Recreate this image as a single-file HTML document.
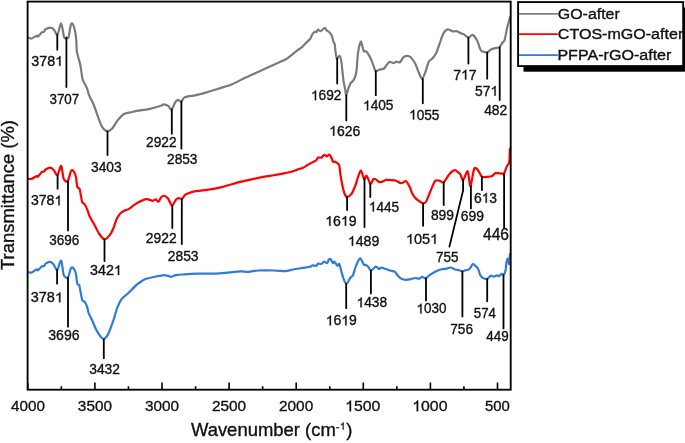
<!DOCTYPE html>
<html><head><meta charset="utf-8"><style>
html,body{margin:0;padding:0;background:#fff;}
svg{display:block;transform:translateZ(0);}
text{font-family:"Liberation Sans",sans-serif;fill:#111;stroke:#111;stroke-width:0.35px;}
path.o{fill:#111;stroke:#111;stroke-width:0.35px;vector-effect:non-scaling-stroke;}
</style></head><body>
<svg width="685" height="443" viewBox="0 0 685 443">

<path d="M28.00 37.60C28.51 37.73 30.38 38.77 31.60 38.50C32.82 38.23 35.71 35.97 36.60 35.70C37.49 35.43 37.19 37.04 37.90 36.60C38.61 36.16 40.69 33.29 41.60 32.60C42.51 31.91 43.79 32.15 44.30 31.70C44.81 31.25 44.31 29.98 45.20 29.40C46.09 28.82 49.40 27.60 50.60 27.60C51.80 27.60 52.74 28.44 53.70 29.40C54.66 30.36 56.34 35.24 57.40 34.40C58.46 33.56 60.25 23.12 61.20 23.50C62.15 23.88 63.36 35.05 64.10 37.10C64.84 39.15 65.76 38.00 66.40 38.00C67.04 38.00 67.96 39.01 68.60 37.10C69.24 35.19 70.25 26.23 70.90 24.50C71.55 22.77 72.49 23.24 73.20 24.90C73.91 26.56 75.39 32.53 75.90 36.20C76.41 39.87 76.49 47.90 76.80 50.80C77.11 53.70 77.59 54.65 78.10 56.70C78.61 58.75 79.81 62.28 80.40 65.30C81.00 68.32 81.85 75.69 82.30 78.00C82.75 80.31 82.91 80.07 83.60 81.60C84.29 83.13 86.44 86.87 87.20 88.80C87.97 90.73 88.16 93.15 89.00 95.20C89.84 97.25 92.14 101.13 93.10 103.30C94.06 105.47 95.02 108.35 95.80 110.50C96.58 112.65 97.69 116.15 98.60 118.50C99.51 120.85 100.98 125.30 102.20 127.10C103.42 128.90 105.78 131.00 107.20 131.20C108.62 131.40 110.73 130.03 112.20 128.50C113.67 126.97 115.94 122.45 117.60 120.40C119.26 118.35 121.99 115.16 123.90 114.00C125.81 112.84 128.79 112.71 131.10 112.20C133.41 111.69 137.52 110.87 140.20 110.40C142.88 109.93 147.08 109.55 150.00 108.90C152.92 108.25 158.87 106.44 160.80 105.80C162.73 105.16 162.51 104.34 163.60 104.40C164.69 104.46 167.38 105.46 168.50 106.20C169.62 106.94 170.54 110.17 171.50 109.60C172.46 109.03 174.38 103.57 175.30 102.20C176.22 100.83 177.16 99.97 178.00 99.90C178.84 99.83 180.24 102.08 181.20 101.70C182.16 101.32 182.82 98.09 184.80 97.20C186.78 96.31 192.96 95.85 195.20 95.40C197.44 94.95 199.21 94.35 200.60 94.00C201.99 93.65 203.67 93.28 205.00 92.90C206.33 92.52 208.07 91.91 210.00 91.30C211.93 90.69 215.47 89.61 218.60 88.60C221.73 87.59 228.26 85.77 232.10 84.20C235.94 82.63 241.86 79.31 245.70 77.50C249.54 75.69 255.36 73.14 259.20 71.40C263.04 69.66 268.96 66.96 272.80 65.20C276.64 63.44 283.51 60.54 286.30 59.00C289.09 57.46 290.98 55.49 292.50 54.30C294.02 53.11 295.70 51.59 297.00 50.60C298.30 49.61 300.43 48.38 301.70 47.30C302.97 46.22 304.77 44.23 306.00 43.00C307.23 41.77 309.54 39.78 310.40 38.60C311.26 37.42 311.52 35.65 312.10 34.70C312.68 33.75 313.88 32.28 314.50 31.90C315.12 31.52 316.00 32.34 316.50 32.00C317.00 31.66 317.41 29.61 318.00 29.50C318.59 29.39 319.74 31.43 320.70 31.20C321.66 30.97 323.91 27.96 324.80 27.90C325.69 27.84 326.43 30.26 327.00 30.80C327.57 31.34 328.15 31.06 328.80 31.70C329.45 32.34 330.95 33.90 331.60 35.30C332.25 36.70 332.96 40.33 333.40 41.60C333.84 42.88 334.42 43.05 334.70 44.30C334.98 45.55 335.12 48.39 335.40 50.40C335.68 52.41 336.12 57.73 336.70 58.50C337.28 59.27 338.85 55.42 339.50 55.80C340.15 56.18 340.90 59.19 341.30 61.20C341.70 63.21 341.99 67.22 342.30 70.00C342.61 72.78 343.07 77.98 343.50 80.80C343.93 83.62 344.92 87.85 345.30 89.90C345.68 91.95 345.75 95.55 346.20 95.30C346.65 95.05 347.86 89.83 348.50 88.10C349.14 86.37 350.06 84.13 350.70 83.10C351.34 82.07 352.35 81.76 353.00 80.80C353.65 79.84 354.79 77.83 355.30 76.30C355.81 74.77 356.22 73.29 356.60 70.00C356.98 66.71 357.42 57.09 358.00 53.10C358.58 49.11 360.13 42.96 360.70 41.80C361.27 40.64 361.56 43.55 362.00 44.90C362.44 46.25 363.22 50.39 363.80 51.30C364.38 52.21 365.32 50.66 366.10 51.30C366.88 51.94 368.59 54.65 369.30 55.80C370.01 56.95 370.46 57.87 371.10 59.40C371.74 60.93 373.16 64.94 373.80 66.60C374.44 68.26 374.84 70.65 375.60 71.10C376.37 71.55 378.00 70.17 379.20 69.80C380.40 69.43 383.09 69.12 384.10 68.50C385.11 67.88 385.54 66.34 386.30 65.40C387.06 64.47 388.47 62.23 389.50 61.90C390.53 61.57 392.64 63.13 393.60 63.10C394.56 63.07 395.41 61.83 396.30 61.70C397.19 61.57 398.88 62.84 399.90 62.20C400.92 61.56 402.48 58.09 403.50 57.20C404.52 56.31 406.08 55.90 407.10 55.90C408.12 55.90 409.55 56.11 410.70 57.20C411.85 58.29 414.05 61.42 415.20 63.60C416.35 65.78 417.84 70.43 418.80 72.60C419.76 74.77 421.09 78.90 422.00 78.90C422.91 78.90 424.24 75.04 425.20 72.60C426.16 70.16 427.78 63.68 428.80 61.70C429.82 59.72 431.38 59.75 432.40 58.60C433.42 57.45 434.99 55.68 436.00 53.60C437.01 51.52 438.49 46.68 439.50 43.90C440.51 41.12 442.21 35.91 443.10 34.00C443.99 32.09 445.02 31.04 445.80 30.40C446.58 29.76 447.57 29.36 448.60 29.50C449.63 29.64 451.95 31.17 453.10 31.40C454.25 31.63 455.68 30.86 456.70 31.10C457.72 31.34 459.28 32.63 460.30 33.10C461.32 33.57 462.75 33.76 463.90 34.40C465.05 35.04 467.18 37.53 468.40 37.60C469.62 37.67 471.28 34.52 472.50 34.90C473.72 35.28 476.04 38.64 477.00 40.30C477.96 41.96 478.72 45.13 479.30 46.60C479.88 48.07 480.34 49.94 481.10 50.70C481.87 51.47 483.81 51.74 484.70 52.00C485.59 52.26 486.51 52.85 487.40 52.50C488.29 52.15 489.91 50.12 491.00 49.50C492.09 48.88 493.95 48.40 495.10 48.10C496.25 47.80 498.05 48.16 499.10 47.40C500.15 46.63 501.72 43.75 502.50 42.70C503.28 41.65 503.92 42.21 504.60 40.00C505.28 37.79 506.54 30.27 507.30 27.10C508.06 23.93 509.56 19.13 510.00 17.60C510.44 16.07 510.34 16.48 510.40 16.30" fill="none" stroke="#7a7a7a" stroke-width="2.2" stroke-linejoin="round"/>
<path d="M28.00 178.70C28.51 178.73 30.38 179.28 31.60 178.90C32.82 178.52 35.71 176.31 36.60 176.00C37.49 175.69 37.19 177.24 37.90 176.70C38.61 176.16 40.69 172.96 41.60 172.20C42.51 171.44 43.73 171.68 44.30 171.30C44.87 170.92 44.78 170.02 45.60 169.50C46.42 168.98 48.95 167.54 50.10 167.60C51.25 167.66 52.67 168.84 53.70 169.90C54.73 170.96 56.34 175.68 57.40 175.10C58.46 174.52 60.31 165.26 61.20 165.80C62.09 166.34 62.78 176.72 63.70 178.90C64.62 181.08 66.68 182.28 67.70 181.20C68.72 180.12 70.12 172.77 70.90 171.30C71.68 169.83 72.49 170.04 73.20 170.80C73.91 171.56 75.33 174.46 75.90 176.70C76.47 178.94 76.76 184.94 77.20 186.60C77.64 188.26 78.60 187.86 79.00 188.40C79.40 188.94 79.55 188.45 80.00 190.40C80.45 192.35 81.56 200.27 82.20 202.20C82.84 204.13 83.73 202.85 84.50 204.00C85.27 205.15 86.96 208.77 87.60 210.30C88.24 211.83 88.48 213.53 89.00 214.80C89.52 216.08 90.52 217.87 91.30 219.30C92.08 220.73 93.41 222.89 94.50 224.90C95.59 226.91 97.58 231.45 99.00 233.50C100.42 235.55 102.96 239.20 104.50 239.40C106.04 239.60 108.62 236.52 109.90 234.90C111.18 233.28 112.59 230.14 113.50 228.00C114.41 225.86 115.59 221.50 116.30 219.80C117.01 218.10 117.86 216.96 118.50 216.00C119.14 215.04 119.84 213.81 120.80 213.00C121.76 212.19 124.28 210.81 125.30 210.30C126.32 209.79 126.97 209.98 128.00 209.40C129.03 208.82 131.18 207.16 132.60 206.20C134.02 205.24 136.06 203.59 138.00 202.60C139.94 201.61 144.23 199.45 146.30 199.20C148.37 198.94 151.27 200.77 152.60 200.80C153.93 200.83 154.86 199.27 155.70 199.40C156.54 199.53 157.72 202.01 158.50 201.70C159.28 201.39 160.38 198.04 161.20 197.20C162.02 196.36 163.28 195.55 164.30 195.80C165.32 196.06 167.31 197.60 168.40 199.00C169.49 200.40 170.91 205.64 172.00 205.70C173.09 205.76 175.08 200.48 176.10 199.40C177.12 198.32 178.38 198.16 179.20 198.10C180.02 198.04 181.06 199.45 181.90 199.00C182.74 198.55 183.95 195.81 185.10 194.90C186.25 193.99 188.67 193.11 190.00 192.60C191.33 192.09 192.33 191.65 194.50 191.30C196.67 190.95 201.46 190.69 205.30 190.10C209.14 189.50 216.80 188.23 221.60 187.10C226.40 185.97 234.78 183.23 239.20 182.10C243.62 180.97 248.96 179.91 252.80 179.10C256.64 178.29 263.16 176.98 266.30 176.40C269.44 175.82 272.35 175.47 275.00 175.00C277.65 174.53 282.80 173.53 285.00 173.10C287.20 172.67 289.08 172.37 290.50 172.00C291.92 171.63 293.80 170.93 295.00 170.50C296.20 170.07 298.01 169.31 299.00 169.00C299.99 168.69 301.08 168.67 302.00 168.30C302.92 167.93 304.65 166.92 305.50 166.40C306.35 165.88 307.29 165.04 308.00 164.60C308.71 164.16 309.35 163.91 310.50 163.30C311.65 162.69 315.02 161.11 316.10 160.30C317.18 159.49 317.34 157.98 318.10 157.60C318.87 157.22 320.64 157.98 321.50 157.60C322.36 157.22 323.44 155.08 324.20 154.90C324.96 154.72 326.22 156.34 326.90 156.30C327.58 156.26 328.42 154.51 329.00 154.60C329.58 154.69 330.43 155.89 331.00 156.90C331.57 157.91 332.42 161.02 333.00 161.70C333.58 162.38 334.24 161.22 335.10 161.70C335.96 162.18 338.34 163.19 339.10 165.10C339.87 167.01 340.02 172.22 340.50 175.20C340.98 178.17 341.93 183.51 342.50 186.10C343.07 188.69 343.86 191.97 344.50 193.50C345.14 195.03 346.04 196.80 347.00 196.90C347.96 197.00 350.14 195.74 351.30 194.20C352.46 192.66 354.29 188.28 355.20 186.00C356.11 183.72 356.89 180.31 357.70 178.10C358.51 175.89 360.01 170.27 360.90 170.40C361.79 170.53 363.18 178.23 364.00 179.00C364.82 179.77 365.79 175.11 366.70 175.80C367.61 176.49 369.44 183.45 370.40 183.90C371.36 184.35 372.74 179.64 373.50 179.00C374.26 178.36 374.96 178.96 375.80 179.40C376.64 179.84 378.51 181.77 379.40 182.10C380.29 182.43 381.14 182.01 382.10 181.70C383.06 181.39 384.93 180.13 386.20 179.90C387.47 179.67 389.70 179.97 391.10 180.10C392.50 180.23 394.81 180.39 396.10 180.80C397.39 181.21 399.24 182.75 400.20 183.00C401.16 183.25 402.08 182.88 402.90 182.60C403.72 182.32 405.24 180.75 406.00 181.00C406.76 181.25 407.73 183.48 408.30 184.40C408.87 185.32 409.48 186.28 410.00 187.50C410.52 188.72 411.36 191.65 412.00 193.00C412.64 194.35 413.79 196.08 414.50 197.00C415.21 197.92 415.81 198.61 417.00 199.50C418.19 200.39 421.58 203.05 422.90 203.30C424.22 203.56 425.15 203.21 426.30 201.30C427.45 199.39 429.75 192.68 431.00 189.80C432.25 186.92 433.95 182.30 435.10 181.00C436.25 179.70 437.90 180.42 439.10 180.60C440.30 180.78 442.16 183.21 443.60 182.30C445.05 181.39 447.73 175.91 449.30 174.20C450.87 172.49 453.35 170.38 454.70 170.20C456.05 170.02 457.99 172.29 458.80 172.90C459.61 173.51 459.79 173.49 460.40 174.50C461.01 175.51 462.14 180.47 463.10 180.00C464.06 179.53 466.44 171.88 467.20 171.20C467.96 170.52 468.02 173.09 468.50 175.20C468.98 177.31 469.82 186.96 470.60 186.10C471.38 185.24 473.14 171.56 474.00 169.10C474.86 166.63 475.94 168.22 476.70 168.70C477.46 169.18 478.63 171.35 479.40 172.50C480.16 173.65 480.95 176.19 482.10 176.80C483.25 177.41 486.07 176.93 487.50 176.80C488.93 176.67 491.05 176.41 492.20 175.90C493.35 175.39 494.06 173.53 495.60 173.20C497.14 172.87 501.94 173.42 503.10 173.60C504.26 173.78 503.32 175.42 503.80 174.50C504.28 173.58 505.74 168.83 506.50 167.10C507.26 165.37 508.72 164.79 509.20 162.30C509.68 159.81 509.74 151.51 509.90 149.50C510.06 147.49 510.24 148.30 510.30 148.10" fill="none" stroke="#ff0000" stroke-width="2.2" stroke-linejoin="round"/>
<path d="M28.00 272.10C28.51 272.17 30.38 272.98 31.60 272.60C32.82 272.22 35.71 269.73 36.60 269.40C37.49 269.07 37.19 270.68 37.90 270.30C38.61 269.92 40.69 267.34 41.60 266.70C42.51 266.06 43.73 266.24 44.30 265.80C44.87 265.36 44.78 264.15 45.60 263.60C46.42 263.05 48.95 261.77 50.10 261.90C51.25 262.03 52.71 263.37 53.70 264.50C54.69 265.63 56.04 270.44 57.10 269.90C58.16 269.36 60.27 260.01 61.20 260.70C62.14 261.39 62.78 272.41 63.70 274.80C64.62 277.19 66.68 278.49 67.70 277.60C68.72 276.71 70.12 269.87 70.90 268.50C71.68 267.13 72.49 267.19 73.20 267.90C73.91 268.61 75.33 271.30 75.90 273.50C76.47 275.70 76.76 281.80 77.20 283.40C77.64 285.00 78.67 284.39 79.00 284.80C79.33 285.21 79.05 284.16 79.50 286.30C79.95 288.44 81.49 297.72 82.20 299.90C82.91 302.08 83.79 300.68 84.50 301.70C85.21 302.72 86.62 305.50 87.20 307.10C87.78 308.70 88.09 311.53 88.60 313.00C89.11 314.47 90.29 316.44 90.80 317.50C91.31 318.56 91.45 318.81 92.20 320.50C92.95 322.19 94.91 327.12 96.10 329.40C97.29 331.68 99.55 335.23 100.60 336.60C101.65 337.97 102.59 339.16 103.50 339.10C104.41 339.04 105.99 337.76 107.00 336.20C108.01 334.64 109.61 330.61 110.60 328.10C111.59 325.59 113.06 321.38 114.00 318.50C114.94 315.62 116.11 310.59 117.20 307.80C118.29 305.01 120.30 300.73 121.70 298.80C123.10 296.87 125.68 295.49 127.10 294.20C128.52 292.91 130.28 291.10 131.70 289.70C133.12 288.30 135.70 285.50 137.10 284.30C138.50 283.10 140.30 281.99 141.60 281.20C142.90 280.41 143.34 279.54 146.30 278.70C149.26 277.86 159.43 275.71 162.50 275.30C165.57 274.89 166.75 275.59 168.00 275.80C169.25 276.01 170.15 276.90 171.30 276.80C172.45 276.70 174.27 275.44 176.10 275.10C177.93 274.76 181.13 274.60 184.20 274.40C187.27 274.20 192.73 273.86 197.80 273.70C202.87 273.54 213.98 273.63 220.00 273.30C226.02 272.97 236.46 271.60 240.30 271.40C244.14 271.20 244.59 272.03 247.10 271.90C249.61 271.77 254.16 270.70 258.00 270.50C261.84 270.30 270.36 270.40 274.20 270.50C278.04 270.60 282.41 271.34 285.10 271.20C287.79 271.06 290.90 269.93 293.20 269.50C295.50 269.07 299.63 268.47 301.30 268.20C302.97 267.93 303.71 267.81 305.00 267.60C306.29 267.39 309.31 267.03 310.40 266.70C311.49 266.37 311.86 265.43 312.70 265.30C313.54 265.17 315.54 266.06 316.30 265.80C317.06 265.55 317.39 263.75 318.10 263.50C318.81 263.25 320.46 264.25 321.30 264.00C322.14 263.75 323.18 261.83 324.00 261.70C324.82 261.57 326.41 263.40 327.10 263.10C327.79 262.80 328.39 260.14 328.90 259.60C329.41 259.06 330.12 258.80 330.70 259.30C331.28 259.80 332.48 262.76 333.00 263.10C333.52 263.44 333.76 261.32 334.40 261.70C335.04 262.08 336.81 265.47 337.50 265.80C338.19 266.13 338.79 263.36 339.30 264.00C339.81 264.64 340.52 268.26 341.10 270.30C341.68 272.34 342.65 276.49 343.40 278.40C344.15 280.31 345.44 283.86 346.40 283.80C347.36 283.74 349.28 279.20 350.20 278.00C351.12 276.80 352.21 276.65 352.90 275.30C353.59 273.95 354.41 270.43 355.10 268.50C355.79 266.57 357.06 263.13 357.80 261.70C358.54 260.27 359.59 258.27 360.30 258.40C361.01 258.53 362.28 261.68 362.80 262.60C363.32 263.52 363.57 264.57 364.00 264.90C364.43 265.23 365.15 264.57 365.80 264.90C366.45 265.23 367.89 266.39 368.60 267.20C369.31 268.01 369.78 270.67 370.80 270.60C371.82 270.53 374.65 266.93 375.80 266.70C376.95 266.47 378.13 268.87 378.90 269.00C379.66 269.13 380.24 267.60 381.20 267.60C382.16 267.60 384.30 268.55 385.70 269.00C387.10 269.45 389.83 270.42 391.10 270.80C392.38 271.18 393.67 270.94 394.70 271.70C395.73 272.46 397.37 275.15 398.40 276.20C399.43 277.25 400.98 278.59 402.00 279.10C403.02 279.61 404.33 279.80 405.60 279.80C406.88 279.80 409.61 279.36 411.00 279.10C412.39 278.85 414.27 278.06 415.40 278.00C416.53 277.94 418.04 278.86 419.00 278.70C419.96 278.54 421.24 276.96 422.20 276.90C423.16 276.84 424.71 278.58 425.80 278.30C426.89 278.02 428.43 275.89 429.90 274.90C431.37 273.91 434.54 272.09 436.20 271.30C437.86 270.51 440.07 269.68 441.60 269.30C443.13 268.92 445.71 268.86 447.00 268.60C448.29 268.35 449.54 267.37 450.70 267.50C451.86 267.63 454.00 269.12 455.20 269.50C456.40 269.88 458.18 269.93 459.20 270.20C460.22 270.47 461.52 271.39 462.40 271.40C463.28 271.41 464.46 270.58 465.40 270.30C466.33 270.02 468.24 269.85 469.00 269.40C469.76 268.95 470.29 267.84 470.80 267.10C471.31 266.36 472.02 264.45 472.60 264.20C473.18 263.94 474.12 264.63 474.90 265.30C475.68 265.97 477.34 267.48 478.10 268.90C478.87 270.32 479.61 274.01 480.30 275.30C480.99 276.59 482.04 277.49 483.00 278.00C483.96 278.51 486.01 279.23 487.10 278.90C488.19 278.57 489.81 276.03 490.70 275.70C491.59 275.37 492.51 276.66 493.40 276.60C494.29 276.54 496.24 275.36 497.00 275.30C497.76 275.24 498.15 276.40 498.80 276.20C499.45 276.00 500.89 274.10 501.60 273.90C502.31 273.70 503.23 275.31 503.80 274.80C504.37 274.29 505.22 272.09 505.60 270.30C505.98 268.51 506.17 263.86 506.50 262.20C506.83 260.54 507.52 258.35 507.90 258.60C508.28 258.86 508.89 264.78 509.20 264.00C509.51 263.22 509.97 254.64 510.10 253.10" fill="none" stroke="#2f7bd9" stroke-width="2.2" stroke-linejoin="round"/>
<path d="M57.3 34.7V49.8M66.4 37.5V87.0M107.5 131.5V155.1M171.8 109.5V133.8M181.4 101.5V148.7M337.2 58.5V83.5M346.3 95.3V120.4M375.8 71.2V95.2M422.8 79.0V103.3M468.4 37.6V63.5M487.2 52.3V78.7M499.7 47.3V100.0M57.6 175.3V188.8M68.0 181.3V230.6M104.5 239.4V261.1M172.3 205.7V228.1M181.8 199.0V244.0M347.1 196.9V210.0M364.5 179.0V227.1M370.3 183.9V197.1M423.1 203.3V225.8M443.7 182.3V205.0M470.9 186.1V208.4M481.9 176.8V190.2M504.1 174.3V228.2M57.1 269.9V283.7M68.0 277.6V326.7M103.8 339.1V358.2M346.2 283.8V308.2M370.9 270.6V293.5M426.0 278.3V300.5M462.4 271.4V316.6M487.2 278.9V301.3M503.5 274.8V328.4M463.1 180.0L463.1 190.4L449.4 246.6" stroke="#000" stroke-width="1.8" stroke-linecap="round" fill="none"/>
<text x="31.20" y="65.85" font-size="14.2" textLength="31.88" lengthAdjust="spacingAndGlyphs">378 </text><path class="o" d="M763 0H583V1147Q518 1085 412.5 1023T223 930V1104Q374 1175 487 1276T647 1472H763V0Z" transform="translate(55.11,65.85) scale(0.00700,-0.00664)"/>
<text x="49.44" y="103.65" font-size="14.2" textLength="29.78" lengthAdjust="spacingAndGlyphs">3707</text>
<text x="91.03" y="171.65" font-size="14.2" textLength="30.63" lengthAdjust="spacingAndGlyphs">3403</text>
<text x="146.06" y="146.65" font-size="14.2" textLength="30.48" lengthAdjust="spacingAndGlyphs">2922</text>
<text x="167.06" y="164.15" font-size="14.2" textLength="30.39" lengthAdjust="spacingAndGlyphs">2853</text>
<text x="310.96" y="100.15" font-size="14.2" textLength="30.48" lengthAdjust="spacingAndGlyphs"> 692</text><path class="o" d="M763 0H583V1147Q518 1085 412.5 1023T223 930V1104Q374 1175 487 1276T647 1472H763V0Z" transform="translate(310.96,100.15) scale(0.00669,-0.00664)"/>
<text x="329.13" y="135.65" font-size="14.2" textLength="31.14" lengthAdjust="spacingAndGlyphs"> 626</text><path class="o" d="M763 0H583V1147Q518 1085 412.5 1023T223 930V1104Q374 1175 487 1276T647 1472H763V0Z" transform="translate(329.13,135.65) scale(0.00683,-0.00664)"/>
<text x="363.06" y="110.25" font-size="14.2" textLength="30.36" lengthAdjust="spacingAndGlyphs"> 405</text><path class="o" d="M763 0H583V1147Q518 1085 412.5 1023T223 930V1104Q374 1175 487 1276T647 1472H763V0Z" transform="translate(363.06,110.25) scale(0.00666,-0.00664)"/>
<text x="409.06" y="119.55" font-size="14.2" textLength="30.36" lengthAdjust="spacingAndGlyphs"> 055</text><path class="o" d="M763 0H583V1147Q518 1085 412.5 1023T223 930V1104Q374 1175 487 1276T647 1472H763V0Z" transform="translate(409.06,119.55) scale(0.00666,-0.00664)"/>
<text x="453.23" y="79.55" font-size="14.2" textLength="23.43" lengthAdjust="spacingAndGlyphs">7 7</text><path class="o" d="M763 0H583V1147Q518 1085 412.5 1023T223 930V1104Q374 1175 487 1276T647 1472H763V0Z" transform="translate(461.04,79.55) scale(0.00686,-0.00664)"/>
<text x="475.10" y="95.65" font-size="14.2" textLength="23.10" lengthAdjust="spacingAndGlyphs">57 </text><path class="o" d="M763 0H583V1147Q518 1085 412.5 1023T223 930V1104Q374 1175 487 1276T647 1472H763V0Z" transform="translate(490.49,95.65) scale(0.00676,-0.00664)"/>
<text x="484.13" y="114.55" font-size="14.2" textLength="23.01" lengthAdjust="spacingAndGlyphs">482</text>
<text x="30.91" y="205.25" font-size="14.2" textLength="31.32" lengthAdjust="spacingAndGlyphs">378 </text><path class="o" d="M763 0H583V1147Q518 1085 412.5 1023T223 930V1104Q374 1175 487 1276T647 1472H763V0Z" transform="translate(54.40,205.25) scale(0.00687,-0.00664)"/>
<text x="49.14" y="245.05" font-size="14.2" textLength="30.01" lengthAdjust="spacingAndGlyphs">3696</text>
<text x="90.01" y="275.05" font-size="14.2" textLength="31.77" lengthAdjust="spacingAndGlyphs">342 </text><path class="o" d="M763 0H583V1147Q518 1085 412.5 1023T223 930V1104Q374 1175 487 1276T647 1472H763V0Z" transform="translate(113.83,275.05) scale(0.00697,-0.00664)"/>
<text x="145.85" y="242.65" font-size="14.2" textLength="30.79" lengthAdjust="spacingAndGlyphs">2922</text>
<text x="167.75" y="260.65" font-size="14.2" textLength="30.80" lengthAdjust="spacingAndGlyphs">2853</text>
<text x="325.22" y="225.75" font-size="14.2" textLength="31.30" lengthAdjust="spacingAndGlyphs"> 6 9</text><path class="o" d="M763 0H583V1147Q518 1085 412.5 1023T223 930V1104Q374 1175 487 1276T647 1472H763V0Z" transform="translate(325.22,225.75) scale(0.00687,-0.00664)"/><path class="o" d="M763 0H583V1147Q518 1085 412.5 1023T223 930V1104Q374 1175 487 1276T647 1472H763V0Z" transform="translate(340.87,225.75) scale(0.00687,-0.00664)"/>
<text x="347.81" y="245.85" font-size="14.2" textLength="31.51" lengthAdjust="spacingAndGlyphs"> 489</text><path class="o" d="M763 0H583V1147Q518 1085 412.5 1023T223 930V1104Q374 1175 487 1276T647 1472H763V0Z" transform="translate(347.81,245.85) scale(0.00692,-0.00664)"/>
<text x="368.88" y="211.55" font-size="14.2" textLength="30.04" lengthAdjust="spacingAndGlyphs"> 445</text><path class="o" d="M763 0H583V1147Q518 1085 412.5 1023T223 930V1104Q374 1175 487 1276T647 1472H763V0Z" transform="translate(368.88,211.55) scale(0.00659,-0.00664)"/>
<text x="405.97" y="243.85" font-size="14.2" textLength="32.24" lengthAdjust="spacingAndGlyphs"> 05 </text><path class="o" d="M763 0H583V1147Q518 1085 412.5 1023T223 930V1104Q374 1175 487 1276T647 1472H763V0Z" transform="translate(405.97,243.85) scale(0.00708,-0.00664)"/><path class="o" d="M763 0H583V1147Q518 1085 412.5 1023T223 930V1104Q374 1175 487 1276T647 1472H763V0Z" transform="translate(430.15,243.85) scale(0.00708,-0.00664)"/>
<text x="430.95" y="219.75" font-size="14.2" textLength="23.05" lengthAdjust="spacingAndGlyphs">899</text>
<text x="435.96" y="262.25" font-size="14.2" textLength="22.46" lengthAdjust="spacingAndGlyphs">755</text>
<text x="460.85" y="221.05" font-size="14.2" textLength="23.16" lengthAdjust="spacingAndGlyphs">699</text>
<text x="473.95" y="202.65" font-size="14.2" textLength="23.11" lengthAdjust="spacingAndGlyphs">6 3</text><path class="o" d="M763 0H583V1147Q518 1085 412.5 1023T223 930V1104Q374 1175 487 1276T647 1472H763V0Z" transform="translate(481.65,202.65) scale(0.00676,-0.00664)"/>
<text x="482.99" y="240.25" font-size="15.6" textLength="26.04" lengthAdjust="spacingAndGlyphs">446</text>
<text x="30.70" y="302.15" font-size="14.2" textLength="32.32" lengthAdjust="spacingAndGlyphs">378 </text><path class="o" d="M763 0H583V1147Q518 1085 412.5 1023T223 930V1104Q374 1175 487 1276T647 1472H763V0Z" transform="translate(54.94,302.15) scale(0.00709,-0.00664)"/>
<text x="48.21" y="339.75" font-size="14.2" textLength="31.36" lengthAdjust="spacingAndGlyphs">3696</text>
<text x="89.22" y="374.05" font-size="14.2" textLength="30.72" lengthAdjust="spacingAndGlyphs">3432</text>
<text x="325.73" y="325.35" font-size="14.2" textLength="31.08" lengthAdjust="spacingAndGlyphs"> 6 9</text><path class="o" d="M763 0H583V1147Q518 1085 412.5 1023T223 930V1104Q374 1175 487 1276T647 1472H763V0Z" transform="translate(325.73,325.35) scale(0.00682,-0.00664)"/><path class="o" d="M763 0H583V1147Q518 1085 412.5 1023T223 930V1104Q374 1175 487 1276T647 1472H763V0Z" transform="translate(341.27,325.35) scale(0.00682,-0.00664)"/>
<text x="356.55" y="307.35" font-size="14.2" textLength="30.60" lengthAdjust="spacingAndGlyphs"> 438</text><path class="o" d="M763 0H583V1147Q518 1085 412.5 1023T223 930V1104Q374 1175 487 1276T647 1472H763V0Z" transform="translate(356.55,307.35) scale(0.00672,-0.00664)"/>
<text x="416.48" y="313.45" font-size="14.2" textLength="29.99" lengthAdjust="spacingAndGlyphs"> 030</text><path class="o" d="M763 0H583V1147Q518 1085 412.5 1023T223 930V1104Q374 1175 487 1276T647 1472H763V0Z" transform="translate(416.48,313.45) scale(0.00658,-0.00664)"/>
<text x="450.25" y="334.25" font-size="14.2" textLength="22.70" lengthAdjust="spacingAndGlyphs">756</text>
<text x="473.82" y="317.65" font-size="14.2" textLength="22.12" lengthAdjust="spacingAndGlyphs">574</text>
<text x="486.24" y="341.35" font-size="14.2" textLength="22.34" lengthAdjust="spacingAndGlyphs">449</text>
<rect x="27.6" y="1.6" width="483.1" height="388.1" fill="none" stroke="#000" stroke-width="1.85"/>
<path d="M27.80 389.7V382.6M61.35 389.7V386.3M94.90 389.7V382.6M128.45 389.7V386.3M162.00 389.7V382.6M195.55 389.7V386.3M229.10 389.7V382.6M262.65 389.7V386.3M296.20 389.7V382.6M329.75 389.7V386.3M363.30 389.7V382.6M396.85 389.7V386.3M430.40 389.7V382.6M463.95 389.7V386.3M497.50 389.7V382.6" stroke="#000" stroke-width="1.6" fill="none"/>
<text x="11.00" y="411.25" font-size="15.5" textLength="33.84" lengthAdjust="spacingAndGlyphs">4000</text>
<text x="77.87" y="411.25" font-size="15.5" textLength="34.08" lengthAdjust="spacingAndGlyphs">3500</text>
<text x="144.97" y="411.25" font-size="15.5" textLength="34.08" lengthAdjust="spacingAndGlyphs">3000</text>
<text x="211.88" y="411.25" font-size="15.5" textLength="34.28" lengthAdjust="spacingAndGlyphs">2500</text>
<text x="278.98" y="411.25" font-size="15.5" textLength="34.28" lengthAdjust="spacingAndGlyphs">2000</text>
<text x="345.12" y="411.25" font-size="15.5" textLength="35.24" lengthAdjust="spacingAndGlyphs"> 500</text><path class="o" d="M763 0H583V1147Q518 1085 412.5 1023T223 930V1104Q374 1175 487 1276T647 1472H763V0Z" transform="translate(345.12,411.25) scale(0.00774,-0.00724)"/>
<text x="412.22" y="411.25" font-size="15.5" textLength="35.24" lengthAdjust="spacingAndGlyphs"> 000</text><path class="o" d="M763 0H583V1147Q518 1085 412.5 1023T223 930V1104Q374 1175 487 1276T647 1472H763V0Z" transform="translate(412.22,411.25) scale(0.00774,-0.00724)"/>
<text x="485.05" y="411.25" font-size="15.5" textLength="24.88" lengthAdjust="spacingAndGlyphs">500</text>
<text x="190.90" y="436.00" font-size="18.5" textLength="144.97" lengthAdjust="spacingAndGlyphs">Wavenumber (cm</text>
<rect x="336.1" y="427.2" width="3.1" height="1.1" fill="#111"/>
<path class="o" d="M763 0H583V1147Q518 1085 412.5 1023T223 930V1104Q374 1175 487 1276T647 1472H763V0Z" transform="translate(339.97,429.6) scale(0.00476,-0.00476)"/>
<text x="346.2" y="436.0" font-size="18.5">)</text>
<g transform="translate(14.1,270) rotate(-90)"><text x="0" y="0" font-size="18.5" textLength="150" lengthAdjust="spacingAndGlyphs">Transmittance (%)</text></g>
<rect x="523.5" y="7.6" width="166" height="64.1" fill="#000"/>
<rect x="518.1" y="2.1" width="165.1" height="64" fill="#fff" stroke="#000" stroke-width="1.9"/>
<path d="M519 13.8H557.8" stroke="#808080" stroke-width="1.7"/>
<path d="M519 34.2H557.8" stroke="#ff0000" stroke-width="1.7"/>
<path d="M519 55.2H557.8" stroke="#2f7bd9" stroke-width="1.7"/>
<text x="557.80" y="18.80" font-size="15.3" textLength="61.95" lengthAdjust="spacingAndGlyphs">GO-after</text>
<text x="557.80" y="39.20" font-size="15.3" textLength="125.45" lengthAdjust="spacingAndGlyphs">CTOS-mGO-after</text>
<text x="557.41" y="59.60" font-size="15.3" textLength="114.00" lengthAdjust="spacingAndGlyphs">PFPA-rGO-after</text>
</svg></body></html>
